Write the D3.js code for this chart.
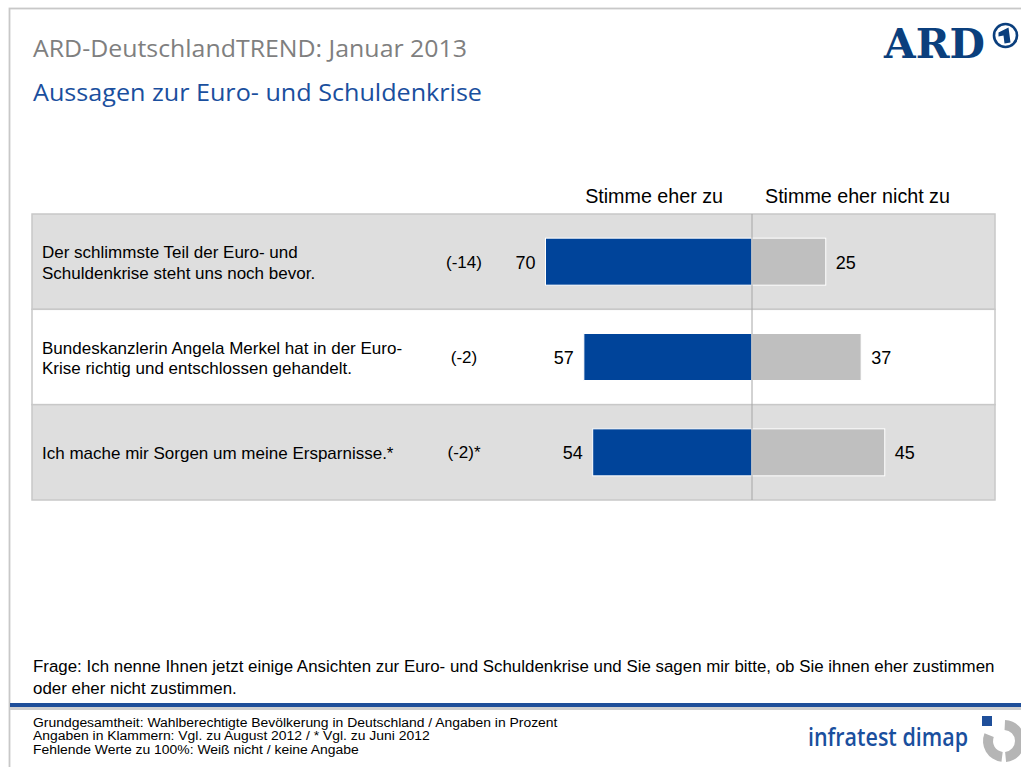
<!DOCTYPE html>
<html><head><meta charset="utf-8">
<script src="https://cdn.jsdelivr.net/npm/d3@7"></script>
<style>
html,body{margin:0;padding:0;background:#fff;}
svg{display:block;}
</style></head>
<body>
<script>
// ---- data ----
const categories = [
  ["Der schlimmste Teil der Euro- und", "Schuldenkrise steht uns noch bevor."],
  ["Bundeskanzlerin Angela Merkel hat in der Euro-", "Krise richtig und entschlossen gehandelt."],
  ["Ich mache mir Sorgen um meine Ersparnisse.*"]
];
const agree = [70, 57, 54];
const disagree = [25, 37, 45];
const changes = ["(-14)", "(-2)", "(-2)*"];
const seriesNames = ["Stimme eher zu", "Stimme eher nicht zu"];
const title = "ARD-DeutschlandTREND: Januar 2013";
const subtitle = "Aussagen zur Euro- und Schuldenkrise";
const question = ["Frage: Ich nenne Ihnen jetzt einige Ansichten zur Euro- und Schuldenkrise und Sie sagen mir bitte, ob Sie ihnen eher zustimmen",
                  "oder eher nicht zustimmen."];
const footnotes = ["Grundgesamtheit: Wahlberechtigte Bevölkerung in Deutschland / Angaben in Prozent",
                   "Angaben in Klammern: Vgl. zu August 2012 / * Vgl. zu Juni 2012",
                   "Fehlende Werte zu 100%: Weiß nicht / keine Angabe"];

const W = 1021, H = 767;
const BLUE = "#00449a", GREY = "#bfbfbf", ROWGREY = "#dedede";
const ARIAL = "'Liberation Sans', Arial, sans-serif";
const HUM = "'Open Sans', 'Noto Sans', sans-serif";

const svg = d3.select("body").append("svg").attr("width", W).attr("height", H);

// outer frame
svg.append("rect").attr("x", 9.5).attr("y", 8.5).attr("width", W + 20).attr("height", H + 20)
  .attr("fill", "#fff").attr("stroke", "#c8c8c8").attr("stroke-width", 1.8);

// titles
svg.append("text").attr("x", 33).attr("y", 57).attr("font-family", HUM).attr("font-size", 24)
  .attr("fill", "#7f7f7f").attr("textLength", 434).attr("lengthAdjust", "spacingAndGlyphs").text(title);
svg.append("text").attr("x", 33).attr("y", 101).attr("font-family", HUM).attr("font-size", 24)
  .attr("fill", "#1a4f9e").attr("textLength", 449).attr("lengthAdjust", "spacingAndGlyphs").text(subtitle);

// ARD logo
svg.append("text").attr("x", 884).attr("y", 58).attr("font-family", "'DejaVu Serif', serif").attr("font-weight", "bold")
  .attr("font-size", 41).attr("fill", "#0b3f7d").attr("textLength", 101).attr("lengthAdjust", "spacingAndGlyphs").text("ARD");
const lg = svg.append("g").attr("transform", "translate(1005.5,35.5)");
lg.append("circle").attr("r", 11.5).attr("fill", "none").attr("stroke", "#0b3f7d").attr("stroke-width", 2.6);
lg.append("path").attr("d", "M-7,-3 L3,-8 L5,7 L-1,8 L-2,0 L-7,1 Z").attr("fill", "#0b3f7d");

// scales
const x = d3.scaleLinear().domain([-100, 100]).range([752 - 295, 752 + 295]);
const y = d3.scaleBand().domain(d3.range(categories.length)).range([214, 500]).padding(0);
const tableX0 = 32, tableX1 = 995;
const barH = 47;

// rows
const rows = svg.append("g").selectAll("g").data(categories).join("g");
rows.append("rect").attr("x", tableX0).attr("y", (d, i) => y(i)).attr("width", tableX1 - tableX0)
  .attr("height", y.bandwidth()).attr("fill", (d, i) => i % 2 === 0 ? ROWGREY : "#fff")
  .attr("stroke", "#c8c8c8").attr("stroke-width", 1.5);

const cy = i => y(i) + y.bandwidth() / 2;

// bars
svg.append("g").selectAll("rect").data(agree).join("rect")
  .attr("x", d => x(-d)).attr("y", (d, i) => cy(i) - barH / 2).attr("width", d => x(0) - x(-d)).attr("height", barH)
  .attr("fill", BLUE).attr("stroke", "#fff").attr("stroke-width", 1);
svg.append("g").selectAll("rect").data(disagree).join("rect")
  .attr("x", x(0)).attr("y", (d, i) => cy(i) - barH / 2).attr("width", d => x(d) - x(0)).attr("height", barH)
  .attr("fill", GREY).attr("stroke", "#fff").attr("stroke-width", 1);

// center line
svg.append("line").attr("x1", x(0)).attr("x2", x(0)).attr("y1", y(0)).attr("y2", y(categories.length - 1) + y.bandwidth())
  .attr("stroke", "#a6a6a6").attr("stroke-width", 1);

// value labels
svg.append("g").selectAll("text").data(agree).join("text")
  .attr("x", d => x(-d) - 10).attr("y", (d, i) => cy(i) + 7).attr("text-anchor", "end")
  .attr("font-family", ARIAL).attr("font-size", 18).attr("fill", "#000").text(d => d);
svg.append("g").selectAll("text").data(disagree).join("text")
  .attr("x", d => x(d) + 10).attr("y", (d, i) => cy(i) + 7).attr("text-anchor", "start")
  .attr("font-family", ARIAL).attr("font-size", 18).attr("fill", "#000").text(d => d);

// change labels
svg.append("g").selectAll("text").data(changes).join("text")
  .attr("x", 464).attr("y", (d, i) => cy(i) + 6).attr("text-anchor", "middle")
  .attr("font-family", ARIAL).attr("font-size", 17).attr("fill", "#000").text(d => d);

// category labels
const cl = svg.append("g").selectAll("text").data(categories).join("text")
  .attr("font-family", ARIAL).attr("font-size", 17).attr("fill", "#000");
cl.each(function(lines, i) {
  const n = lines.length;
  d3.select(this).selectAll("tspan").data(lines).join("tspan")
    .attr("x", 42).attr("y", (l, j) => cy(i) + 7 + (j - (n - 1) / 2) * 20.5).text(l => l);
});

// column headers
svg.append("text").attr("x", x(0) - 29).attr("y", 203).attr("text-anchor", "end")
  .attr("font-family", ARIAL).attr("font-size", 19.7).attr("fill", "#000").text(seriesNames[0]);
svg.append("text").attr("x", x(0) + 13).attr("y", 203).attr("text-anchor", "start")
  .attr("font-family", ARIAL).attr("font-size", 19.7).attr("fill", "#000").text(seriesNames[1]);

// question
svg.append("g").selectAll("text").data(question).join("text")
  .attr("x", 33).attr("y", (d, i) => 672 + i * 22)
  .attr("font-family", ARIAL).attr("font-size", 16.9).attr("fill", "#000").text(d => d);

// footer rule
svg.append("rect").attr("x", 10).attr("y", 703).attr("width", W).attr("height", 4).attr("fill", "#1f4f9a");
svg.append("rect").attr("x", 10).attr("y", 707).attr("width", W).attr("height", 3).attr("fill", "#cfcfcf");

// footnotes (horizontally widened small text)
svg.append("g").attr("transform", "translate(33,0) scale(1.16,1)")
  .selectAll("text").data(footnotes).join("text")
  .attr("x", 0).attr("y", (d, i) => 727 + i * 13.5)
  .attr("font-family", ARIAL).attr("font-size", 12).attr("fill", "#000").text(d => d);

// infratest dimap logo
svg.append("text").attr("x", 808).attr("y", 746).attr("font-family", HUM).attr("font-weight", 600)
  .attr("font-size", 26).attr("fill", "#1a4f9e").attr("textLength", 160).attr("lengthAdjust", "spacingAndGlyphs")
  .text("infratest dimap");
const il = svg.append("g").attr("transform", "translate(1004,741)");
const arc = d3.arc().innerRadius(11).outerRadius(21);
il.append("path").attr("d", arc({startAngle: 0.05, endAngle: Math.PI - 0.1})).attr("fill", "#b5b5b5");
il.append("path").attr("d", arc({startAngle: Math.PI + 0.12, endAngle: 1.62 * Math.PI})).attr("fill", "#b5b5b5");
il.append("rect").attr("x", -22).attr("y", -25).attr("width", 10).attr("height", 10).attr("fill", "#1f4f9a");
</script>
</body></html>
